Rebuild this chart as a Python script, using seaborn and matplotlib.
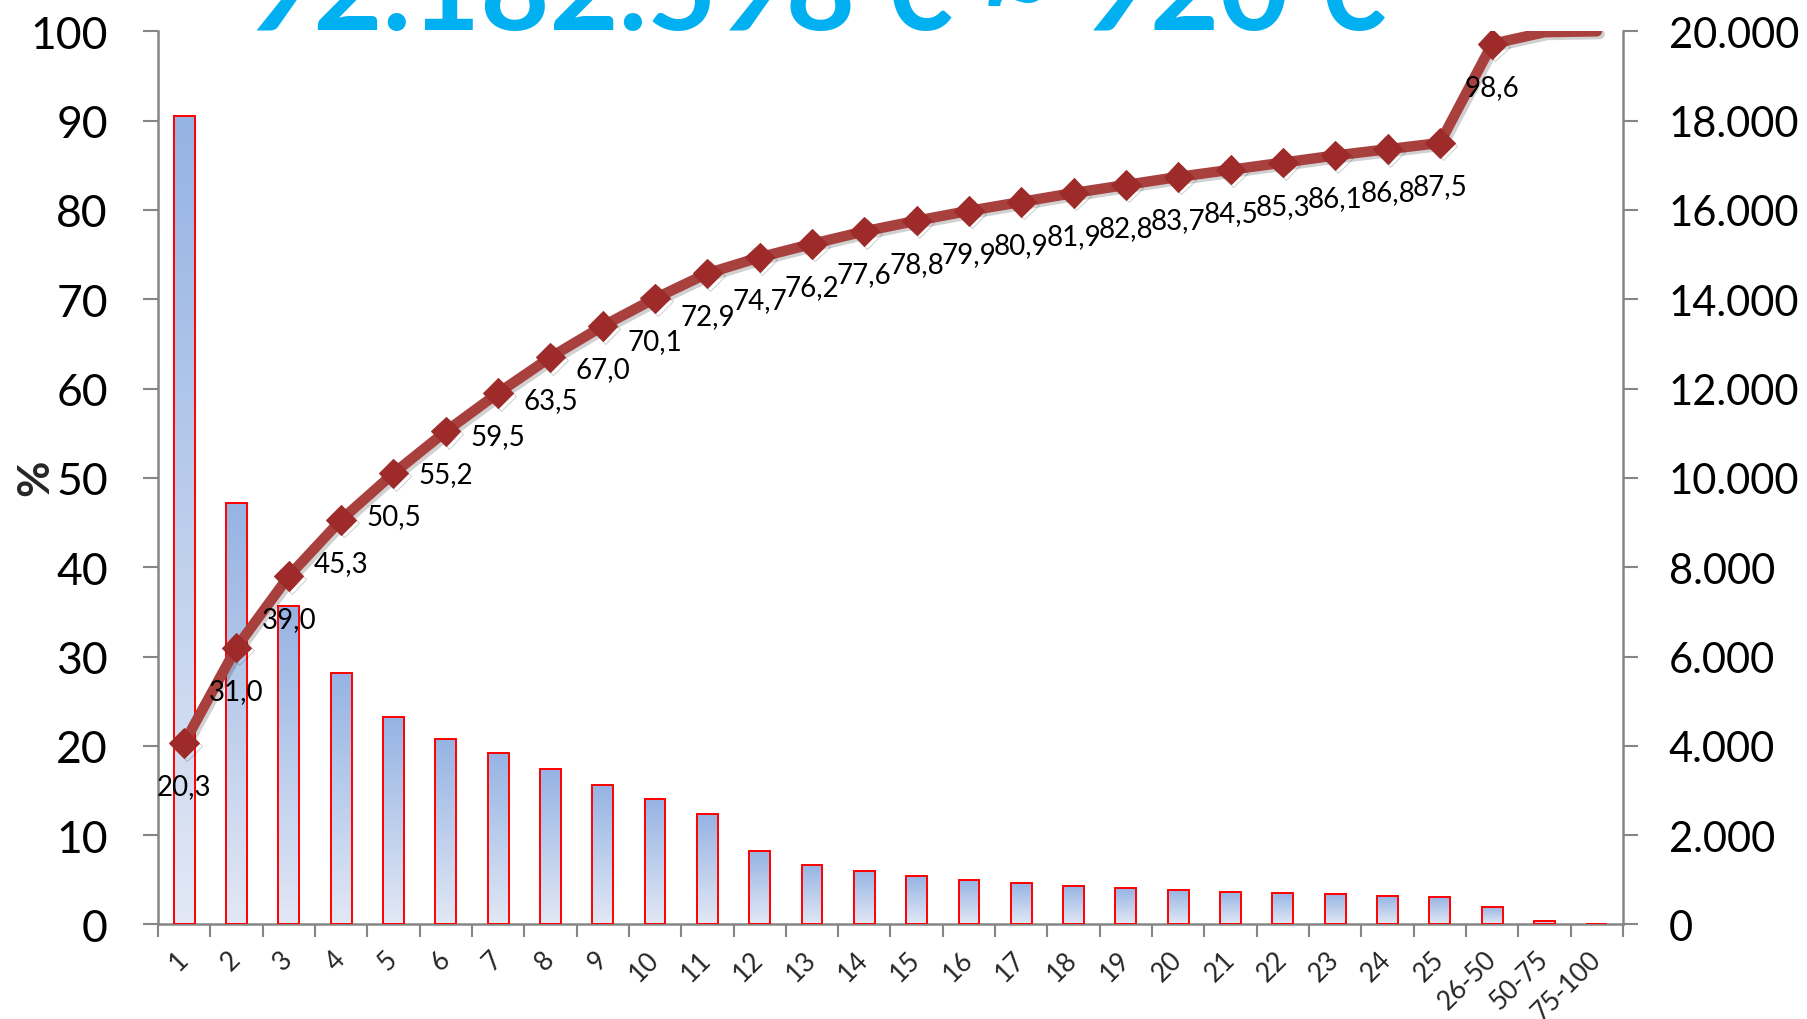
import numpy as np
import pandas as pd
import matplotlib
matplotlib.use("Agg")
import matplotlib.pyplot as plt
import matplotlib.patheffects as pe
import seaborn as sns
from matplotlib.colors import LinearSegmentedColormap
from matplotlib.ticker import FuncFormatter, FixedLocator

# ---------------- data ----------------
categories = [str(i) for i in range(1, 26)] + ["26-50", "50-75", "75-100"]
amounts = [18100, 9440, 7120, 5640, 4650, 4150, 3850, 3480, 3120, 2810,
           2470, 1640, 1330, 1200, 1080, 1000, 920, 860, 815, 780,
           730, 700, 675, 640, 620, 400, 75, 0]
cumulative_pct = [20.3, 31.0, 39.0, 45.3, 50.5, 55.2, 59.5, 63.5, 67.0, 70.1,
                  72.9, 74.7, 76.2, 77.6, 78.8, 79.9, 80.9, 81.9, 82.8, 83.7,
                  84.5, 85.3, 86.1, 86.8, 87.5, 98.6, 99.9, 100.0]
n_labelled = 26
left_ticks = list(range(0, 101, 10))
right_ticks = list(range(0, 20001, 2000))
title = "92.182.598 € ~ 920 €"
y_left_label = "%"

# ---------------- style ----------------
sns.set_theme(style="white")
plt.rcParams["font.family"] = ["Lato", "DejaVu Sans"]
axis_grey = "#868686"
line_col = "#A8403E"
marker_col = "#9E2A2A"

fig = plt.figure(figsize=(18.07, 10.20), dpi=100)
ax = fig.add_axes([0.0874, 0.0927, 0.8108, 0.8756])
ax2 = ax.twinx()

df = pd.DataFrame({"cat": categories, "amount": amounts})
sns.barplot(data=df, x="cat", y="amount", ax=ax, width=0.4, color="#95B3E3",
            saturation=1, edgecolor="#FF0000", linewidth=1.4, zorder=3)

# gradient fill per bar
cmap = LinearSegmentedColormap.from_list("g", ["#E2E8F5", "#95B3E3"])
grad = np.linspace(1, 0, 256).reshape(-1, 1)
for p in list(ax.patches):
    x0, y0 = p.get_x(), p.get_y()
    w, h = p.get_width(), p.get_height()
    if h <= 0:
        continue
    im = ax.imshow(grad, extent=[x0, x0 + w, y0, y0 + h], aspect="auto",
                   cmap=cmap, zorder=2, interpolation="bicubic")
    im.set_clip_path(p)
    p.set_facecolor("none")

ax.set_xlim(-0.5, len(categories) - 0.5)
ax.set_ylim(0, 20000)
ax.set_xlabel("")
ax.set_ylabel("")

# right axis (bars)
ax.yaxis.set_major_locator(FixedLocator(right_ticks))
ax.yaxis.set_major_formatter(FuncFormatter(lambda v, p: f"{int(v):,}".replace(",", ".")))
ax.tick_params(axis="y", which="major", direction="out", length=11, width=1.5,
               color=axis_grey, pad=22, labelsize=30, labelcolor="black",
               right=True, left=False, labelright=True, labelleft=False)

# x axis
ax.set_xticks(range(len(categories)))
ax.set_xticklabels(categories)
ax.set_xticks(np.arange(-0.5, len(categories), 1.0), minor=True)
ax.tick_params(axis="x", which="major", length=0, pad=22, labelsize=19)
ax.tick_params(axis="x", which="minor", direction="out", length=9, width=1.5,
               color=axis_grey, bottom=True)
for lab in ax.get_xticklabels():
    lab.set_rotation(45)
    lab.set_ha("right")
    lab.set_va("center")
    lab.set_rotation_mode("anchor")

for s in ["top", "left"]:
    ax.spines[s].set_visible(False)
for s in ["right", "bottom"]:
    ax.spines[s].set_visible(True)
    ax.spines[s].set_color(axis_grey)
    ax.spines[s].set_linewidth(1.8)

# cumulative line (left axis)
xs = np.arange(len(categories))
sns.lineplot(x=xs, y=cumulative_pct, ax=ax2, color=line_col, linewidth=7.5,
             marker="D", markersize=15, markevery=list(range(n_labelled)),
             markerfacecolor=marker_col, markeredgecolor=marker_col,
             solid_capstyle="round", zorder=5,
             path_effects=[pe.SimpleLineShadow(offset=(2, -2), alpha=0.2), pe.Normal()])
ax2.set_ylim(0, 100)
ax2.set_xlim(-0.5, len(categories) - 0.5)
ax2.yaxis.set_major_locator(FixedLocator(left_ticks))
ax2.tick_params(axis="y", direction="out", length=11, width=1.5, color=axis_grey,
                pad=25, labelsize=32, labelcolor="black", left=True, right=False,
                labelleft=True, labelright=False)
ax2.set_ylabel("")
for s in ["top", "right", "bottom"]:
    ax2.spines[s].set_visible(False)
ax2.spines["left"].set_visible(True)
ax2.spines["left"].set_color(axis_grey)
ax2.spines["left"].set_linewidth(1.8)

for i in range(n_labelled):
    v = cumulative_pct[i]
    ax2.annotate(f"{v:.1f}".replace(".", ","), (i, v), xytext=(0, -31),
                 textcoords="offset points", ha="center", va="center",
                 fontsize=20, color="black", zorder=6)

fig.text(35 / 1807, 1 - 478 / 1020, y_left_label, rotation=90, fontsize=32,
         fontweight="bold", ha="center", va="center")
fig.text(0.451, 1 - 30 / 1020, title, ha="center", va="baseline", fontsize=86,
         fontweight="bold", color="#00B0F0")

fig.savefig("out.png", dpi=100)
